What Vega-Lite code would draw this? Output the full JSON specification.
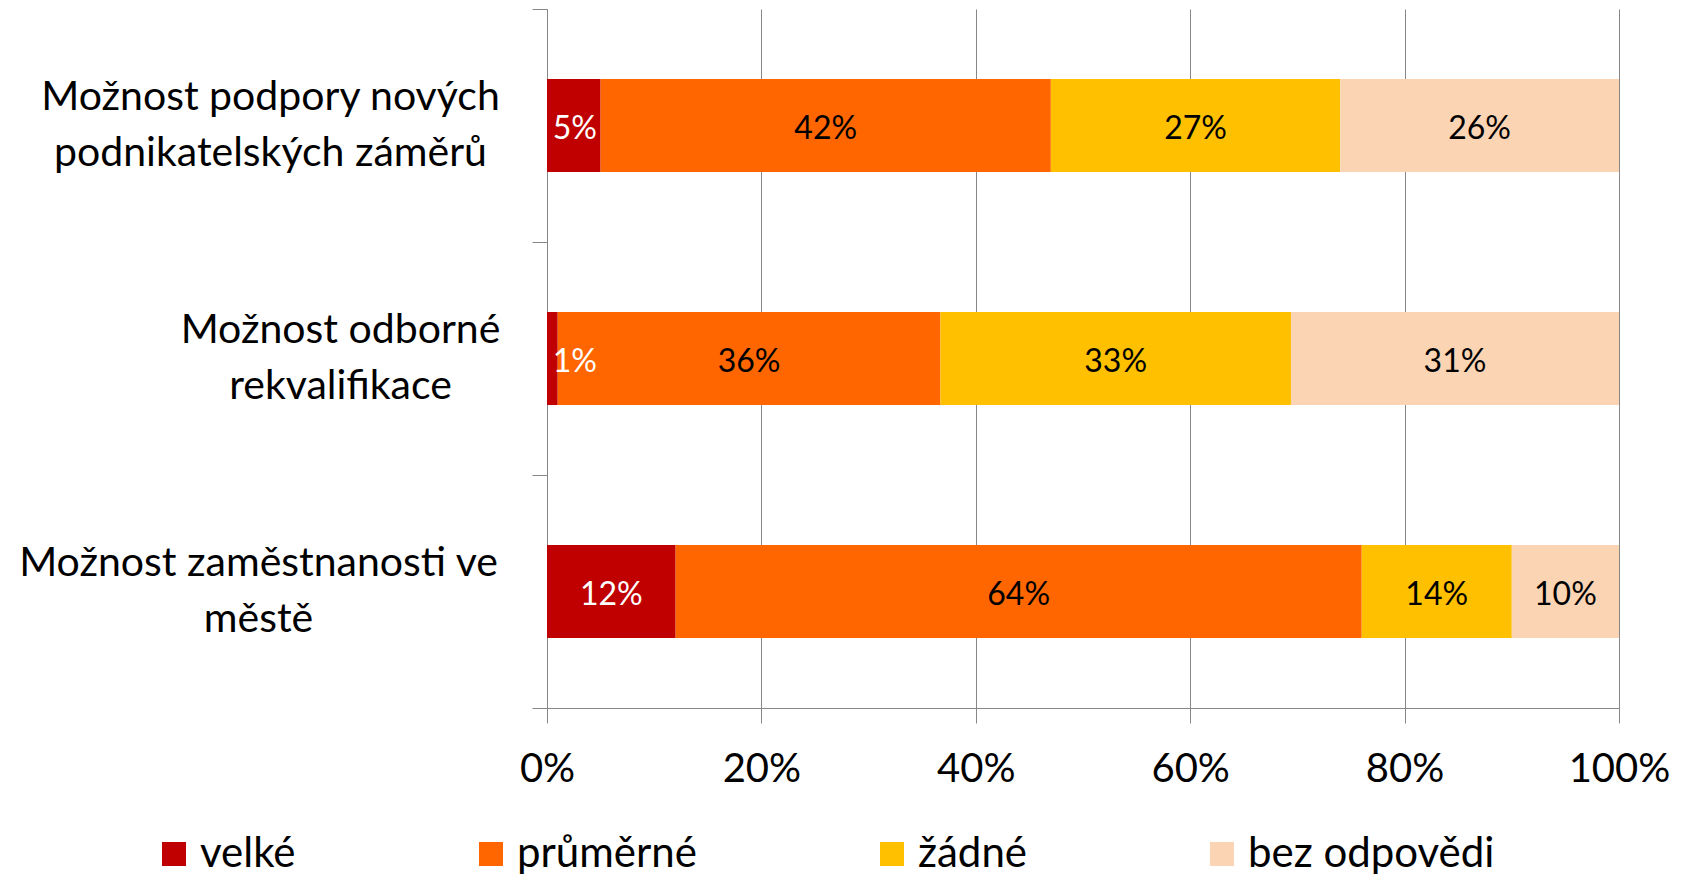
{
  "$schema": "https://vega.github.io/schema/vega-lite/v6.json",
  "width": 1072,
  "height": 699,
  "autosize": {"type": "none"},
  "padding": {"left": 547, "top": 9, "right": 67, "bottom": 167},
  "background": "white",
  "config": {"font": "Lato", "view": {"stroke": null}},
  "data": {
    "values": [
      {"oblast": "Možnost podpory nových podnikatelských záměrů", "odpoved": "velké", "podil": 0.05},
      {"oblast": "Možnost podpory nových podnikatelských záměrů", "odpoved": "průměrné", "podil": 0.42},
      {"oblast": "Možnost podpory nových podnikatelských záměrů", "odpoved": "žádné", "podil": 0.27},
      {"oblast": "Možnost podpory nových podnikatelských záměrů", "odpoved": "bez odpovědi", "podil": 0.26},
      {"oblast": "Možnost odborné rekvalifikace", "odpoved": "velké", "podil": 0.01},
      {"oblast": "Možnost odborné rekvalifikace", "odpoved": "průměrné", "podil": 0.357},
      {"oblast": "Možnost odborné rekvalifikace", "odpoved": "žádné", "podil": 0.327},
      {"oblast": "Možnost odborné rekvalifikace", "odpoved": "bez odpovědi", "podil": 0.306},
      {"oblast": "Možnost zaměstnanosti ve městě", "odpoved": "velké", "podil": 0.12},
      {"oblast": "Možnost zaměstnanosti ve městě", "odpoved": "průměrné", "podil": 0.64},
      {"oblast": "Možnost zaměstnanosti ve městě", "odpoved": "žádné", "podil": 0.14},
      {"oblast": "Možnost zaměstnanosti ve městě", "odpoved": "bez odpovědi", "podil": 0.10}
    ]
  },
  "transform": [
    {"calculate": "indexof(['velké','průměrné','žádné','bez odpovědi'], datum.odpoved)", "as": "poradi"},
    {"stack": "podil", "groupby": ["oblast"], "sort": [{"field": "poradi", "order": "ascending"}], "as": ["x0", "x1"]},
    {"calculate": "max((datum.x0 + datum.x1) / 2, 0.026)", "as": "xmid"}
  ],
  "encoding": {
    "y": {
      "field": "oblast",
      "type": "nominal",
      "sort": ["Možnost podpory nových podnikatelských záměrů", "Možnost odborné rekvalifikace", "Možnost zaměstnanosti ve městě"],
      "scale": {"paddingInner": 0, "paddingOuter": 0},
      "axis": {
        "title": null,
        "tickBand": "extent",
        "grid": false,
        "domainColor": "#878787",
        "tickColor": "#878787",
        "tickSize": 15,
        "labelFontSize": 41,
        "labelColor": "black",
        "labelAlign": "center",
        "labelBaseline": "middle",
        "labelLineHeight": 56,
        "labelOffset": -28,
        "labelLimit": 700,
        "labelPadding": {
          "condition": [
            {"test": "datum.value === 'Možnost podpory nových podnikatelských záměrů'", "value": 262},
            {"test": "datum.value === 'Možnost odborné rekvalifikace'", "value": 192}
          ],
          "value": 274
        },
        "labelExpr": "datum.value === 'Možnost podpory nových podnikatelských záměrů' ? ['Možnost podpory nových', 'podnikatelských záměrů'] : datum.value === 'Možnost odborné rekvalifikace' ? ['Možnost odborné', 'rekvalifikace'] : datum.value === 'Možnost zaměstnanosti ve městě' ? ['Možnost zaměstnanosti ve', 'městě'] : ''"
      }
    }
  },
  "layer": [
    {
      "mark": {"type": "bar", "height": {"band": 0.4}},
      "encoding": {
        "x": {
          "field": "x0",
          "type": "quantitative",
          "scale": {"domain": [0, 1], "nice": false},
          "axis": {
            "title": null,
            "values": [0, 0.2, 0.4, 0.6, 0.8, 1],
            "format": ".0%",
            "grid": true,
            "gridColor": "#878787",
            "domainColor": "#878787",
            "tickColor": "#878787",
            "tickSize": 15,
            "labelFontSize": 40,
            "labelColor": "black",
            "labelPadding": 26,
            "labelFlush": false,
            "labelOverlap": false
          }
        },
        "x2": {"field": "x1"},
        "color": {
          "field": "odpoved",
          "type": "nominal",
          "scale": {
            "domain": ["velké", "průměrné", "žádné", "bez odpovědi"],
            "range": ["#C00000", "#FF6600", "#FFC000", "#FBD4B4"]
          },
          "legend": {
            "title": null,
            "orient": "none",
            "legendX": -394,
            "legendY": 824,
            "direction": "horizontal",
            "symbolType": "square",
            "symbolSize": 576,
            "symbolStrokeWidth": 0,
            "labelFontSize": 42,
            "labelColor": "black",
            "labelOffset": 5,
            "labelLimit": 500,
            "columnPadding": 174
          }
        }
      }
    },
    {
      "mark": {"type": "text", "fontSize": 32, "align": "center", "baseline": "middle", "dy": 3},
      "encoding": {
        "x": {"field": "xmid", "type": "quantitative"},
        "text": {"field": "podil", "type": "quantitative", "format": ".0%"},
        "color": {"condition": {"test": "datum.odpoved === 'velké'", "value": "white"}, "value": "black"}
      }
    }
  ]
}
